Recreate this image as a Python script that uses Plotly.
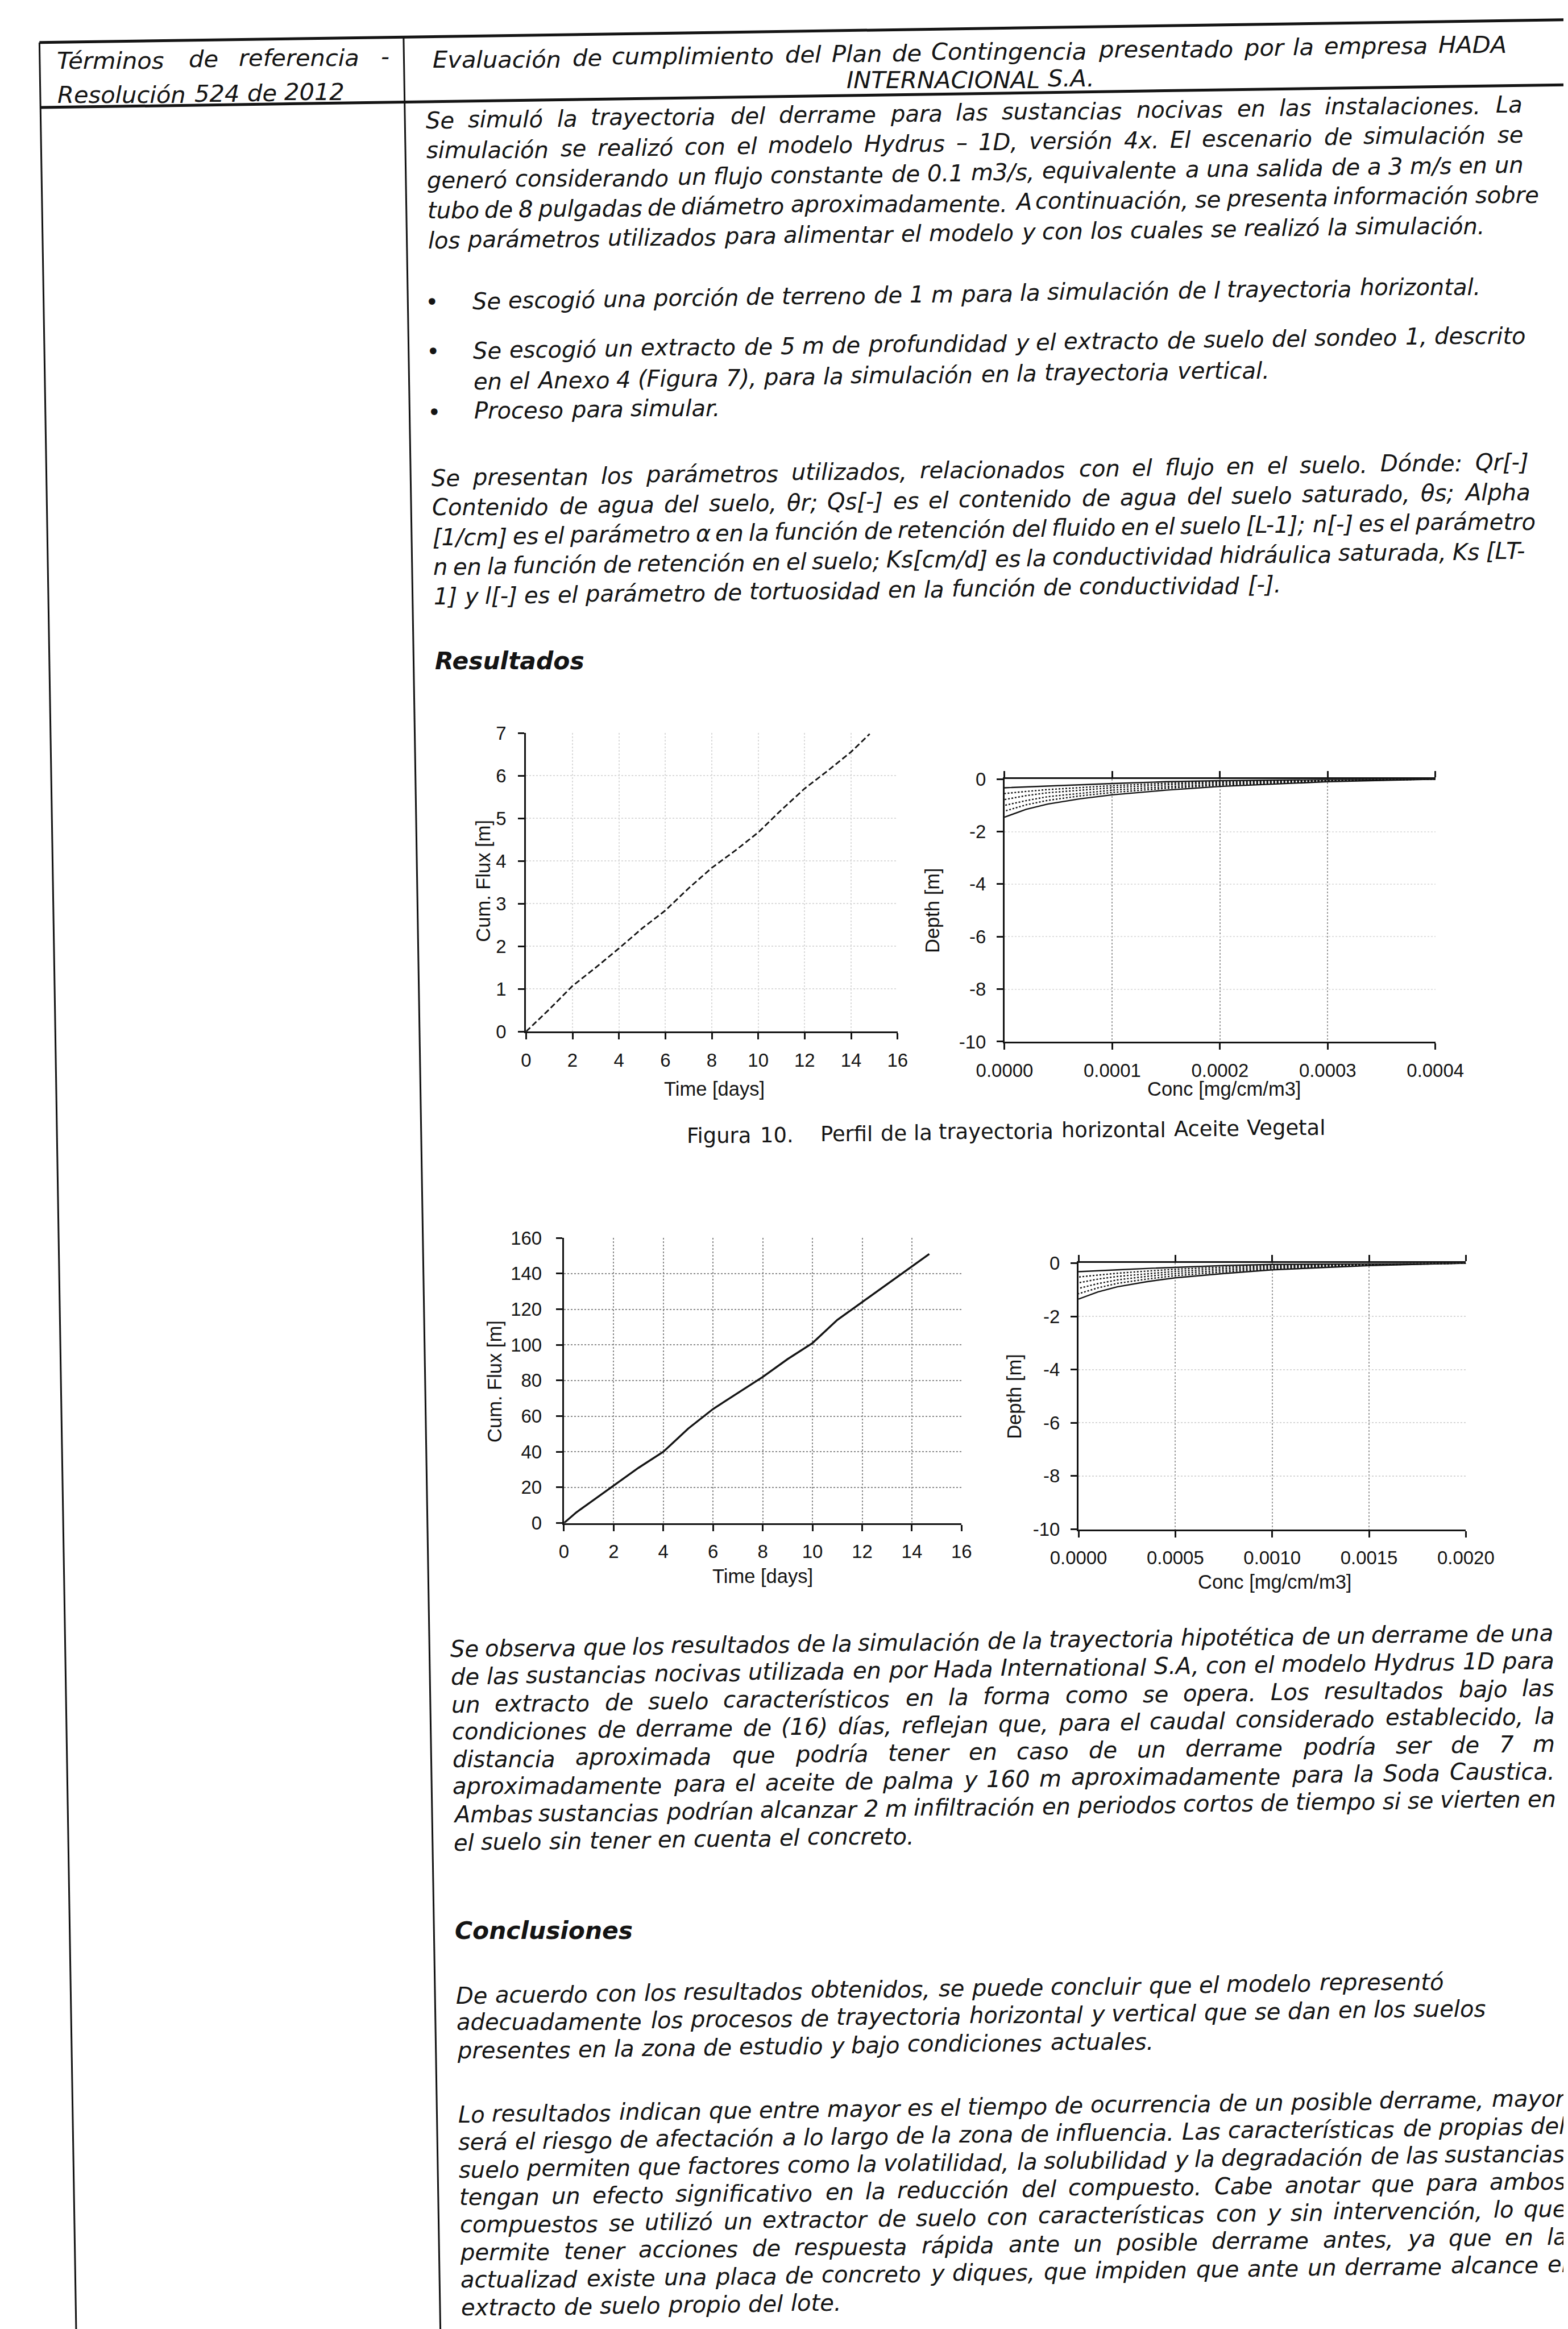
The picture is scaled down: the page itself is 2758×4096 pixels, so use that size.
import unicodedata
import plotly.graph_objects as go

# ---------------------------------------------------------------- chart data
CH1_DAYS = [0, 1, 2, 3, 4, 5, 6, 7, 8, 9, 10, 11, 12, 13, 14, 14.8]
CH1_FLUX = [0.0, 0.52, 1.07, 1.5, 1.95, 2.42, 2.84, 3.36, 3.84, 4.24, 4.67, 5.2, 5.7, 6.12, 6.56, 6.98]
CH1_XTICKS = [0, 2, 4, 6, 8, 10, 12, 14, 16]
CH1_YTICKS = [0, 1, 2, 3, 4, 5, 6, 7]

CH2_CONC = [0.0004, 0.0003, 0.0002, 0.00015, 0.0001, 0.00007, 0.00004, 0.00002, 0.0]
CH2_DEPTH_T1 = [0.0, -0.02, -0.06, -0.10, -0.17, -0.22, -0.27, -0.30, -0.33]
CH2_DEPTH_T2 = [0.0, -0.04, -0.10, -0.16, -0.25, -0.32, -0.40, -0.47, -0.55]
CH2_DEPTH_T3 = [0.0, -0.05, -0.14, -0.22, -0.33, -0.42, -0.52, -0.63, -0.78]
CH2_DEPTH_T4 = [0.0, -0.07, -0.19, -0.29, -0.42, -0.54, -0.67, -0.82, -1.00]
CH2_DEPTH_T5 = [0.0, -0.08, -0.23, -0.35, -0.51, -0.64, -0.81, -0.98, -1.22]
CH2_DEPTH_T6 = [0.0, -0.10, -0.28, -0.42, -0.60, -0.75, -0.95, -1.15, -1.45]
CH2_XTICKS = [0, 0.0001, 0.0002, 0.0003, 0.0004]
CH2_XTICKTEXT = ["0.0000", "0.0001", "0.0002", "0.0003", "0.0004"]

CH3_DAYS = [0, 0.5, 1, 2, 3, 4, 5, 6, 7, 8, 9, 10, 11, 12, 13, 14, 14.7]
CH3_FLUX = [0, 6, 11, 21, 31, 40, 53, 64, 73, 82, 92, 101, 114, 124, 134, 144, 151]
CH3_XTICKS = [0, 2, 4, 6, 8, 10, 12, 14, 16]
CH3_YTICKS = [0, 20, 40, 60, 80, 100, 120, 140, 160]

CH4_CONC = [0.002, 0.0015, 0.001, 0.00075, 0.0005, 0.00035, 0.0002, 0.0001, 0.0]
CH4_DEPTH_T1 = [0.0, -0.02, -0.05, -0.09, -0.15, -0.20, -0.25, -0.29, -0.32]
CH4_DEPTH_T2 = [0.0, -0.04, -0.09, -0.15, -0.23, -0.30, -0.38, -0.45, -0.52]
CH4_DEPTH_T3 = [0.0, -0.05, -0.13, -0.21, -0.31, -0.40, -0.50, -0.60, -0.74]
CH4_DEPTH_T4 = [0.0, -0.06, -0.17, -0.27, -0.39, -0.50, -0.63, -0.77, -0.95]
CH4_DEPTH_T5 = [0.0, -0.08, -0.21, -0.33, -0.47, -0.60, -0.76, -0.93, -1.15]
CH4_DEPTH_T6 = [0.0, -0.09, -0.25, -0.39, -0.55, -0.70, -0.89, -1.08, -1.35]
CH4_XTICKS = [0, 0.0005, 0.001, 0.0015, 0.002]
CH4_XTICKTEXT = ["0.0000", "0.0005", "0.0010", "0.0015", "0.0020"]

DEPTH_TICKS = [0, -2, -4, -6, -8, -10]
DEPTH_TICKTEXT = ["0", "-2", "-4", "-6", "-8", "-10"]

# ---------------------------------------------------------------- texts
HEADER_LEFT = ["Términos de referencia -", "Resolución 524 de 2012"]
HEADER_RIGHT = ["Evaluación de cumplimiento del Plan de Contingencia presentado por la empresa HADA",
                "INTERNACIONAL S.A."]
PARA1 = [
    "Se simuló la trayectoria del derrame para las sustancias nocivas en las instalaciones. La",
    "simulación se realizó con el modelo Hydrus – 1D, versión 4x. El escenario de simulación se",
    "generó considerando un flujo constante de 0.1 m3/s, equivalente a una salida de a 3 m/s en un",
    "tubo de 8 pulgadas de diámetro aproximadamente. A continuación, se presenta información sobre",
    "los parámetros utilizados para alimentar el modelo y con los cuales se realizó la simulación.",
]
BULLET1 = ["Se escogió una porción de terreno de 1 m para la simulación de l trayectoria horizontal."]
BULLET2 = ["Se escogió un extracto de 5 m de profundidad y el extracto de suelo del sondeo 1, descrito",
           "en el Anexo 4 (Figura 7), para la simulación en la trayectoria vertical."]
BULLET3 = ["Proceso para simular."]
PARA2 = [
    "Se presentan los parámetros utilizados, relacionados con el flujo en el suelo. Dónde: Qr[-]",
    "Contenido de agua del suelo, θr; Qs[-] es el contenido de agua del suelo saturado, θs; Alpha",
    "[1/cm] es el parámetro α en la función de retención del fluido en el suelo [L-1]; n[-] es el parámetro",
    "n en la función de retención en el suelo; Ks[cm/d] es la conductividad hidráulica saturada, Ks [LT-",
    "1] y l[-] es el parámetro de tortuosidad en la función de conductividad [-].",
]
HEAD_RESULTS = "Resultados"
CAPTION = "Figura 10.\u00a0\u00a0\u00a0 Perfil de la trayectoria horizontal Aceite Vegetal"
CH1_XTITLE, CH1_YTITLE = "Time [days]", "Cum. Flux [m]"
CH2_XTITLE, CH2_YTITLE = "Conc [mg/cm/m3]", "Depth [m]"
PARA3 = [
    "Se observa que los resultados de la simulación de la trayectoria hipotética de un derrame de una",
    "de las sustancias nocivas utilizada en por Hada International S.A, con el modelo Hydrus 1D para",
    "un extracto de suelo característicos en la forma como se opera. Los resultados bajo las",
    "condiciones de derrame de (16) días, reflejan que, para el caudal considerado establecido, la",
    "distancia aproximada que podría tener en caso de un derrame podría ser de 7 m",
    "aproximadamente para el aceite de palma y 160 m aproximadamente para la Soda Caustica.",
    "Ambas sustancias podrían alcanzar 2 m infiltración en periodos cortos de tiempo si se vierten en",
    "el suelo sin tener en cuenta el concreto.",
]
HEAD_CONCL = "Conclusiones"
PARA4 = [
    "De acuerdo con los resultados obtenidos, se puede concluir que el modelo representó",
    "adecuadamente los procesos de trayectoria horizontal y vertical que se dan en los suelos",
    "presentes en la zona de estudio y bajo condiciones actuales.",
]
PARA5 = [
    "Lo resultados indican que entre mayor es el tiempo de ocurrencia de un posible derrame, mayor",
    "será el riesgo de afectación a lo largo de la zona de influencia. Las características de propias del",
    "suelo permiten que factores como la volatilidad, la solubilidad y la degradación de las sustancias",
    "tengan un efecto significativo en la reducción del compuesto. Cabe anotar que para ambos",
    "compuestos se utilizó un extractor de suelo con características con y sin intervención, lo que",
    "permite tener acciones de respuesta rápida ante un posible derrame antes, ya que en la",
    "actualizad existe una placa de concreto y diques, que impiden que ante un derrame alcance el",
    "extracto de suelo propio del lote.",
]

# ---------------------------------------------------------------- geometry helpers
W_REF, H_REF = 3515.0, 5221.0
OUT_W, OUT_H = 2758, 4096
K = OUT_W / W_REF
S1 = 0.0145   # scan tilt: horizontal lines rise to the right
S2 = 0.0165   # scan tilt: vertical lines lean right going down
INK = "#141414"
BODY_FONT = "DejaVu Sans, Verdana, sans-serif"
CHART_FONT = "Liberation Sans, Arial, sans-serif"
WFAC = 1.05   # rendered oblique words come out a little wider than the table

DV = {}
for chars, w in [("ijlIJ", 569), ("f", 721), ("t", 803), ("r", 842), (" .,\u00a0", 651),
                 (":;/", 690), ("-", 739), ("()[]", 799), ("s", 1067), ("z", 1075),
                 ("c", 1126), ("k", 1186), ("vxyY", 1212), ("FL", 1160), ("T", 1251), ("P", 1235),
                 ("ao", 1254), ("e", 1260), ("nuh", 1298), ("bdgpq", 1300), ("S", 1300),
                 ("0123456789", 1303), ("E", 1294), ("KR", 1400), ("ABVX", 1402), ("C", 1430),
                 ("–", 1024), ("θ", 1253), ("α", 1300), ("UN", 1520), ("H", 1540), ("D", 1577),
                 ("GOQ", 1600), ("w", 1675), ("M", 1767), ("m", 1995), ("W", 2025), ("•", 1178)]:
    for c in chars:
        DV[c] = w / 2048.0


def text_w(s, bold=False):
    tot = 0.0
    for ch in s:
        if ch not in DV:
            ch = unicodedata.normalize("NFD", ch)[0]
        tot += DV.get(ch, 0.62)
    return tot * (1.09 if bold else 1.0)


annotations = []
shapes = []


def ann(text, X, Y, size_full, xanchor="left", yanchor="middle", angle=0, family=BODY_FONT):
    annotations.append(dict(
        text=text, x=X / W_REF, y=1 - Y / H_REF, xref="paper", yref="paper",
        xanchor=xanchor, yanchor=yanchor, showarrow=False, textangle=angle,
        borderpad=0, borderwidth=0, font=dict(family=family, size=size_full * K, color=INK)))


def place_line(text, u0, v, em, right=None, center=None, style="i"):
    """Place a line word by word on the (slightly rotated) scanned page."""
    bold = "b" in style
    pre = ("<b>" if bold else "") + ("<i>" if "i" in style else "")
    post = ("</i>" if "i" in style else "") + ("</b>" if bold else "")
    words = text.split(" ")
    ws = [text_w(w, bold) * em * WFAC for w in words]
    sp = text_w(" ") * em
    nat = sum(ws) + sp * (len(words) - 1)
    if center is not None:
        u0 = center - nat / 2
    gap = sp
    if right is not None and len(words) > 1:
        gap = max((right - u0 - sum(ws)) / (len(words) - 1), 0.7 * sp)
    pos = u0
    for w, wd in zip(words, ws):
        uc = pos + wd / 2
        ann(pre + w + post, pos + S2 * v, v - S1 * uc, em)
        pos += wd + gap


def paragraph(lines, u0, v0, step, em, right, justify=True):
    for i, ln in enumerate(lines):
        last = i == len(lines) - 1
        place_line(ln, u0, v0 + i * step, em, right=(right if (justify and not last) else None))


def page_line(u1, v1, u2, v2, width):
    X1, Y1 = u1 + S2 * v1, v1 - S1 * u1
    X2, Y2 = u2 + S2 * v2, v2 - S1 * u2
    shapes.append(dict(type="line", xref="paper", yref="paper", layer="above",
                       x0=X1 / W_REF, y0=1 - Y1 / H_REF, x1=X2 / W_REF, y1=1 - Y2 / H_REF,
                       line=dict(color=INK, width=width)))


# ---------------------------------------------------------------- table frame
U_LEFT, U_DIV = 14, 861
V_TOP, V_HEAD = 63, 210
page_line(U_LEFT, V_TOP, 3600, V_TOP, 5)
page_line(U_LEFT, V_HEAD, 3600, V_HEAD, 5)
page_line(U_LEFT, V_TOP, U_LEFT, 5400, 3)
page_line(U_DIV, V_TOP, U_DIV, 5400, 3)

# ---------------------------------------------------------------- text body
EM_H, EM_B = 53, 51
place_line(HEADER_LEFT[0], 54, 106, EM_H, right=827)
place_line(HEADER_LEFT[1], 54, 184, EM_H)
place_line(HEADER_RIGHT[0], 928, 116, EM_H, right=3428)
place_line(HEADER_RIGHT[1], 0, 178, EM_H, center=2178)

UT, UR = 910, 3462
paragraph(PARA1, UT, 253, 68, EM_B, UR)
UB = 1011
for v in (663, 775, 912):
    ann("•", 918 + S2 * v, v - S1 * 918, EM_B, xanchor="center")
paragraph(BULLET1, UB, 663, 68, EM_B, UR)
paragraph(BULLET2, UB, 775, 70, EM_B, UR)
paragraph(BULLET3, UB, 912, 68, EM_B, UR)
paragraph(PARA2, UT, 1062, 67, EM_B, UR)
place_line(HEAD_RESULTS, UT, 1478, 54, style="bi")

place_line(CAPTION, 1479, 2559, 47, style="")

paragraph(PARA3, UT, 3711, 62.5, EM_B, 3476)
place_line(HEAD_CONCL, UT, 4350, 54, style="bi")
paragraph(PARA4, UT, 4495, 62.5, EM_B, UR, justify=False)
paragraph(PARA5, UT, 4764, 62.5, EM_B, 3486)

# ---------------------------------------------------------------- charts
def dom_x(X0, X1):
    return [X0 / W_REF, X1 / W_REF]


def dom_y(Ybot, Ytop):
    return [1 - Ybot / H_REF, 1 - Ytop / H_REF]


TICKFONT = dict(family=CHART_FONT, size=42 * K, color=INK)


def axis(domain, rng, anchor, tickvals, ticktext=None, gridcolor="#d0d0d0", gridwidth=2,
         mirror=False, standoff=8):
    d = dict(domain=domain, range=rng, anchor=anchor, tickmode="array", tickvals=tickvals,
             showline=True, linecolor=INK, linewidth=3.2, mirror=mirror,
             ticks="outside", ticklen=11, tickwidth=2.6, tickcolor=INK,
             tickfont=TICKFONT, zeroline=False, showgrid=True, gridcolor=gridcolor,
             gridwidth=gridwidth, griddash="dot", ticklabelstandoff=standoff, fixedrange=True)
    if ticktext is not None:
        d["ticktext"] = ticktext
    return d


fig = go.Figure()

fig.add_trace(go.Scatter(x=CH1_DAYS, y=CH1_FLUX, mode="lines", xaxis="x", yaxis="y",
                         line=dict(color=INK, width=2.8, dash="10px,5px")))
for i, dep in enumerate([CH2_DEPTH_T1, CH2_DEPTH_T2, CH2_DEPTH_T3, CH2_DEPTH_T4, CH2_DEPTH_T5, CH2_DEPTH_T6]):
    fig.add_trace(go.Scatter(x=CH2_CONC, y=dep, mode="lines", xaxis="x2", yaxis="y2",
                             line=dict(color=INK, width=2.4, dash=("solid" if i in (0, 5) else "dot"))))
fig.add_trace(go.Scatter(x=CH3_DAYS, y=CH3_FLUX, mode="lines", xaxis="x3", yaxis="y3",
                         line=dict(color=INK, width=3.4)))
for i, dep in enumerate([CH4_DEPTH_T1, CH4_DEPTH_T2, CH4_DEPTH_T3, CH4_DEPTH_T4, CH4_DEPTH_T5, CH4_DEPTH_T6]):
    fig.add_trace(go.Scatter(x=CH4_CONC, y=dep, mode="lines", xaxis="x4", yaxis="y4",
                             line=dict(color=INK, width=2.4, dash=("solid" if i in (0, 5) else "dot"))))

layout = dict(
    width=OUT_W, height=OUT_H, margin=dict(l=0, r=0, t=0, b=0),
    paper_bgcolor="white", plot_bgcolor="rgba(0,0,0,0)", showlegend=False,
    xaxis=axis(dom_x(1147, 2011), [0, 16], "y", CH1_XTICKS, gridcolor="#dadada"),
    yaxis=axis(dom_y(2300, 1625), [0, 7], "x", CH1_YTICKS, gridcolor="#dadada", standoff=14),
    xaxis2=axis(dom_x(2260, 3262), [0, 0.0004], "y2", CH2_XTICKS, CH2_XTICKTEXT,
                gridcolor="#9a9a9a", mirror="ticks"),
    yaxis2=axis(dom_y(2323, 1729), [-10, 0], "x2", DEPTH_TICKS, DEPTH_TICKTEXT,
                gridcolor="#e0e0e0", standoff=12),
    xaxis3=axis(dom_x(1235, 2160), [0, 16], "y3", CH3_XTICKS, gridcolor="#8a8a8a"),
    yaxis3=axis(dom_y(3412, 2767), [0, 160], "x3", CH3_YTICKS, gridcolor="#8a8a8a", standoff=18),
    xaxis4=axis(dom_x(2432, 3333), [0, 0.002], "y4", CH4_XTICKS, CH4_XTICKTEXT,
                gridcolor="#9a9a9a", mirror="ticks"),
    yaxis4=axis(dom_y(3426, 2824), [-10, 0], "x4", DEPTH_TICKS, DEPTH_TICKTEXT,
                gridcolor="#d6d6d6", standoff=12),
)

TITLE_EM = 44
ann(CH1_YTITLE, 1047, 1959, TITLE_EM, xanchor="center", angle=-90, family=CHART_FONT)
ann(CH1_XTITLE, 1585, 2430, TITLE_EM, xanchor="center", family=CHART_FONT)
ann(CH2_YTITLE, 2092, 2026, TITLE_EM, xanchor="center", angle=-90, family=CHART_FONT)
ann(CH2_XTITLE, 2770, 2430, TITLE_EM, xanchor="center", family=CHART_FONT)
ann(CH1_YTITLE, 1074, 3092, TITLE_EM, xanchor="center", angle=-90, family=CHART_FONT)
ann(CH1_XTITLE, 1697, 3532, TITLE_EM, xanchor="center", family=CHART_FONT)
ann(CH2_YTITLE, 2283, 3125, TITLE_EM, xanchor="center", angle=-90, family=CHART_FONT)
ann(CH2_XTITLE, 2888, 3545, TITLE_EM, xanchor="center", family=CHART_FONT)

layout["annotations"] = annotations
layout["shapes"] = shapes
fig.update_layout(**layout)
fig.write_html("out.html")
